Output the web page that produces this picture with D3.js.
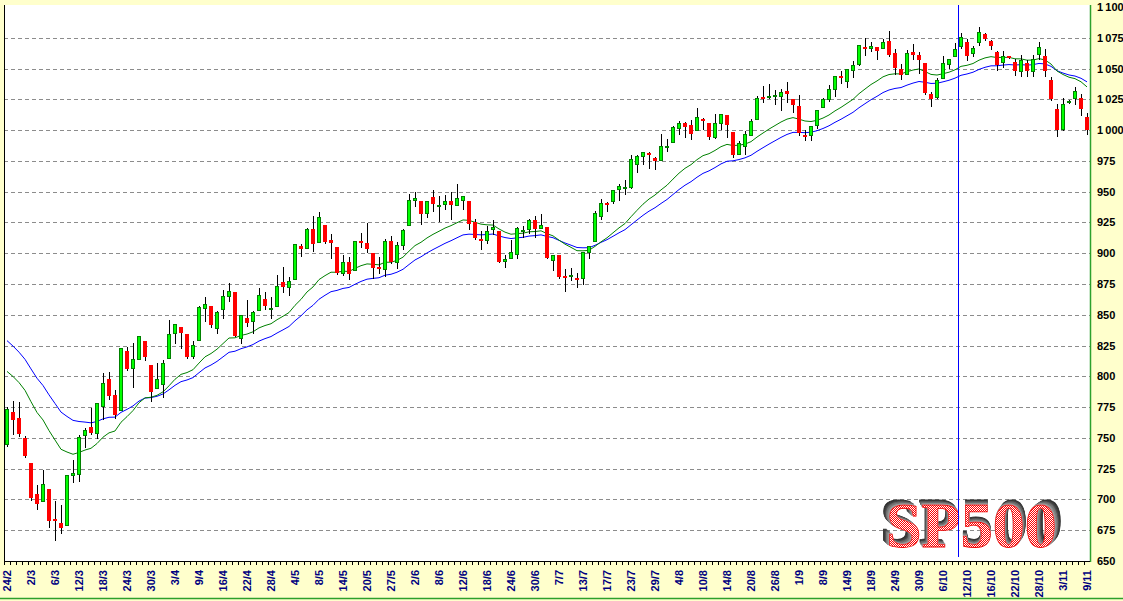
<!DOCTYPE html>
<html>
<head>
<meta charset="utf-8">
<script src="https://cdn.jsdelivr.net/npm/d3@7"></script>
<style>
  body { margin: 0; background: #ffffcc; }
  svg { display: block; }
</style>
</head>
<body>
<div id="container"></div>
<script>

// trading days shown on the chart (24/2 .. 9/11)
let dates = ["24/2","25/2","26/2","27/2",
  "2/3","3/3","4/3","5/3","6/3","9/3","10/3","11/3","12/3","13/3","16/3","17/3","18/3","19/3","20/3","23/3","24/3","25/3","26/3","27/3","30/3","31/3",
  "1/4","2/4","3/4","6/4","7/4","8/4","9/4","13/4","14/4","15/4","16/4","17/4","20/4","21/4","22/4","23/4","24/4","27/4","28/4","29/4","30/4",
  "1/5","4/5","5/5","6/5","7/5","8/5","11/5","12/5","13/5","14/5","15/5","18/5","19/5","20/5","21/5","22/5","26/5","27/5","28/5","29/5",
  "1/6","2/6","3/6","4/6","5/6","8/6","9/6","10/6","11/6","12/6","15/6","16/6","17/6","18/6","19/6","22/6","23/6","24/6","25/6","26/6","29/6","30/6",
  "1/7","2/7","6/7","7/7","8/7","9/7","10/7","13/7","14/7","15/7","16/7","17/7","20/7","21/7","22/7","23/7","24/7","27/7","28/7","29/7","30/7","31/7",
  "3/8","4/8","5/8","6/8","7/8","10/8","11/8","12/8","13/8","14/8","17/8","18/8","19/8","20/8","21/8","24/8","25/8","26/8","27/8","28/8","31/8",
  "1/9","2/9","3/9","4/9","8/9","9/9","10/9","11/9","14/9","15/9","16/9","17/9","18/9","21/9","22/9","23/9","24/9","25/9","28/9","29/9","30/9",
  "1/10","2/10","5/10","6/10","7/10","8/10","9/10","12/10","13/10","14/10","15/10","16/10","19/10","20/10","21/10","22/10","23/10","26/10","27/10","28/10","29/10","30/10",
  "2/11","3/11","4/11","5/11","6/11","9/11"];

let open = [744.69,770.64,765.76,749.93,
  729.57,704.44,698.60,708.27,684.04,680.76,679.28,719.59,720.89,751.97,758.84,753.88,776.01,797.92,784.58,772.31,820.60,806.81,814.06,828.68,809.07,790.88,
  793.59,814.53,835.13,839.75,834.12,816.76,829.29,855.33,856.88,839.44,854.54,865.18,868.27,831.25,847.26,844.62,853.91,862.82,854.48,856.85,876.59,
  872.74,879.21,906.10,903.95,919.58,909.03,922.99,910.52,905.40,884.24,892.76,886.07,909.67,908.62,900.42,888.68,887.00,909.95,892.96,907.02,
  923.26,942.87,942.51,932.49,945.67,938.12,940.35,942.73,939.04,943.44,942.45,925.60,911.89,910.86,919.96,918.13,893.46,896.31,899.45,918.84,919.86,927.15,
  920.82,921.24,894.27,898.60,881.90,881.28,880.03,879.57,900.77,910.15,930.17,940.56,942.07,951.97,953.40,954.07,972.16,978.63,981.48,977.66,976.01,986.80,
  990.22,1001.41,1005.41,1004.06,999.83,1008.89,1005.77,994.00,1005.86,1012.23,998.18,980.62,986.88,996.41,1009.06,1026.59,1026.63,1027.35,1027.81,1031.62,1025.21,
  1019.52,996.07,996.12,1003.84,1018.67,1025.36,1032.99,1043.92,1040.15,1049.03,1053.99,1067.87,1066.60,1067.14,1066.35,1072.69,1062.56,1049.48,1045.38,1063.69,1061.02,
  1054.91,1029.71,1026.87,1042.02,1053.65,1060.03,1068.7,1071.4,1062.5,1071.7,1077.7,1072.0,1063.3,1055.7,1060.0,1055.4,1047.9,1054.6,1048.4,1062.0,1060.6,1040.4,
  1017.4,1000.8,1022.5,1026.0,1026.0,1011.0];

let high = [775.49,780.12,779.42,751.27,
  729.57,711.67,724.12,708.27,699.09,695.27,719.60,731.92,752.63,758.29,774.53,778.12,803.04,803.24,788.91,823.37,823.65,826.78,832.98,828.68,809.07,810.48,
  813.62,845.61,842.50,839.75,834.12,828.42,856.91,864.31,856.88,852.93,870.35,875.63,868.27,850.09,861.78,852.87,871.80,868.83,864.48,882.06,888.70,
  880.48,907.85,907.70,920.28,930.17,933.36,922.99,915.57,905.40,898.36,896.97,910.00,916.39,924.60,900.42,896.65,911.76,913.84,909.45,920.02,
  947.77,949.38,942.51,942.47,951.69,946.33,946.92,949.77,956.23,946.30,942.45,928.00,918.44,921.93,927.09,918.13,898.69,910.85,921.42,922.00,927.99,930.01,
  931.92,921.24,898.72,898.60,886.80,887.86,883.57,901.05,905.84,933.95,943.96,941.89,951.62,956.53,959.83,979.42,979.79,982.49,982.35,977.76,996.68,993.18,
  1003.61,1007.12,1006.64,1008.00,1018.00,1010.12,1005.77,1012.78,1013.14,1012.60,998.18,991.20,999.61,1008.92,1027.59,1035.82,1037.75,1032.47,1033.33,1039.47,1025.21,
  1028.45,1000.34,1003.43,1016.48,1026.07,1036.34,1044.14,1048.18,1049.74,1056.04,1068.76,1074.77,1071.52,1067.28,1073.81,1080.15,1066.29,1053.47,1065.13,1069.62,1063.40,
  1054.91,1030.60,1042.58,1060.55,1058.02,1070.67,1078.5,1074.2,1068.7,1083.4,1078.5,1073.0,1064.0,1064.0,1060.5,1057.5,1061.2,1056.6,1061.2,1071.5,1065.5,1043.0,
  1021.0,1026.0,1024.5,1035.4,1029.5,1013.8];

let low = [743.33,752.89,751.75,734.52,
  699.70,692.30,698.60,677.93,666.79,672.88,679.28,713.85,714.76,742.46,753.37,749.93,765.64,781.82,766.20,772.31,805.48,791.37,814.06,813.43,779.81,790.88,
  783.32,814.53,826.70,822.79,814.53,814.84,829.29,845.35,840.25,835.58,847.04,860.87,832.39,826.83,840.57,835.45,853.91,854.65,847.12,856.85,868.51,
  866.10,879.21,897.34,903.95,901.85,909.03,908.68,896.46,882.80,882.52,878.94,886.07,905.22,901.37,879.61,883.75,881.46,891.87,887.60,903.56,
  923.26,938.46,923.85,929.32,934.13,926.44,936.15,927.97,939.04,935.66,919.65,911.60,903.78,907.94,915.80,893.04,888.86,896.31,896.27,913.03,916.18,912.86,
  920.82,896.42,886.36,879.93,869.32,878.45,872.81,875.32,896.50,910.15,927.45,934.65,940.99,943.22,947.75,953.27,965.95,972.29,969.35,968.65,976.01,982.85,
  990.22,996.68,994.31,992.49,999.83,1000.99,992.40,993.36,1000.82,994.60,978.51,980.62,980.62,996.39,1009.06,1022.48,1026.21,1021.57,1016.20,1023.13,1014.62,
  996.28,991.97,992.25,1001.65,1018.67,1023.97,1028.04,1038.40,1035.00,1043.42,1052.87,1061.20,1064.27,1057.46,1066.35,1060.39,1045.85,1041.17,1045.38,1057.83,1046.47,
  1029.45,1019.95,1025.92,1042.02,1050.10,1060.03,1066.8,1056.7,1060.0,1069.5,1073.6,1066.0,1049.0,1051.0,1058.5,1044.5,1043.6,1043.6,1044.0,1058.0,1043.6,1024.7,
  995.0,1000.0,1022.0,1021.0,1012.3,997.0];

let close = [773.14,764.90,752.83,735.09,
  700.82,696.33,712.87,682.55,683.38,676.53,719.60,721.36,750.74,756.55,753.89,778.12,794.35,784.04,768.54,822.92,806.12,813.88,832.86,815.94,787.53,797.87,
  811.08,834.38,842.50,835.48,815.55,825.16,856.56,858.73,841.50,852.06,865.30,869.60,832.39,850.08,843.55,851.92,866.23,857.51,855.16,873.64,872.81,
  877.52,907.24,903.80,919.53,907.39,929.23,909.24,908.35,883.92,893.07,882.88,909.71,908.13,903.47,888.33,887.00,910.33,893.06,906.83,919.14,
  942.87,944.74,931.76,942.46,940.09,939.14,942.43,939.15,944.89,946.21,923.72,911.97,910.71,918.37,921.23,893.04,895.10,900.94,920.26,918.90,927.23,919.32,
  923.33,896.42,898.72,881.03,879.56,882.68,879.13,901.05,905.84,932.68,940.74,940.38,951.13,954.58,954.07,976.29,979.26,982.18,979.62,975.15,986.75,987.48,
  1002.63,1005.65,1002.72,997.08,1010.48,1007.10,994.35,1005.81,1012.73,1004.09,979.73,989.67,996.46,1007.37,1026.13,1025.57,1028.00,1028.12,1030.98,1028.93,1020.62,
  998.04,994.75,1003.24,1016.40,1025.39,1033.37,1044.14,1042.73,1049.34,1052.63,1068.76,1065.49,1068.30,1064.66,1071.66,1060.87,1050.78,1044.38,1062.98,1060.61,1057.08,
  1029.85,1025.21,1040.46,1054.72,1057.58,1065.48,1075.8,1060.0,1066.3,1079.9,1074.4,1068.2,1053.0,1060.3,1059.0,1048.0,1057.3,1047.8,1057.9,1067.7,1048.0,1025.5,
  1000.0,1021.0,1024.0,1032.0,1017.4,1000.0];

// the two moving averages of the close (values at 24/2)
let maGreenStart = 804, maGreenPeriod = 18;
let maBlueStart = 829, maBluePeriod = 28;

// price axis ticks + which dates get a label
let yTicks = [650,675,700,725,750,775,800,825,850,875,900,925,950,975,1000,1025,1050,1075,1100];
let xLabels = ["24/2","2/3","6/3","12/3","18/3","24/3","30/3","3/4","9/4","16/4","22/4","28/4","4/5","8/5","14/5","20/5","27/5",
  "2/6","8/6","12/6","18/6","24/6","30/6","7/7","13/7","17/7","23/7","29/7","4/8","10/8","14/8","20/8","26/8","1/9","8/9","14/9",
  "18/9","24/9","30/9","6/10","12/10","16/10","22/10","28/10","3/11","9/11"];
let lastRealDate = "9/10"; // blue marker line sits in front of this day
let titleLetters = ["S","P","5","0","0"];

let w = 1123;
let h = 601;
let padLeft = 4, padRight = 1090, plotTop = 5, plotBottom = 561;

let viz = d3.select("#container")
  .append("svg")
    .attr("width", w)
    .attr("height", h)
;

viz.append("rect").attr("width", w).attr("height", h).attr("fill", "#ffffcc");
viz.append("rect")
  .attr("x", padLeft).attr("y", plotTop)
  .attr("width", padRight - padLeft).attr("height", plotBottom - plotTop)
  .attr("fill", "#ffffff");

// checkered red fill for the big title
let defs = viz.append("defs");
let pat = defs.append("pattern").attr("id", "chk")
  .attr("width", 2).attr("height", 2).attr("patternUnits", "userSpaceOnUse");
pat.append("rect").attr("width", 2).attr("height", 2).attr("fill", "#ffffff");
pat.append("rect").attr("width", 1).attr("height", 1).attr("fill", "#ff0000");
pat.append("rect").attr("x", 1).attr("y", 1).attr("width", 1).attr("height", 1).attr("fill", "#ff0000");

let xScale = d3.scaleBand()
    .domain(dates)
    .range([padLeft, padRight])
;
let yScale = d3.scaleLinear().domain([650, 1100]).range([plotBottom, 7]);

// dashed grid
viz.append("g").selectAll("line")
  .data(yTicks.filter(v => v > 650 && v < 1100))
  .enter().append("line")
    .attr("x1", padLeft).attr("x2", padRight)
    .attr("y1", d => Math.round(yScale(d)) + 0.5)
    .attr("y2", d => Math.round(yScale(d)) + 0.5)
    .attr("stroke", "#8c8c8c")
    .attr("stroke-dasharray", "4,3")
;

// SP500 title: one text per letter, each with its own grey extrusion
// pointing towards a vanishing point above the middle of the word
let logoFont = "'Liberation Serif','Times New Roman',serif";
let logo = viz.append("g").attr("transform", "translate(886,547)")
  .style("font-family", logoFont)
  .style("font-weight", "bold")
  .style("font-size", "64px");

let measure = logo.append("text").text(titleLetters.join("")).attr("visibility", "hidden");
let letterX = titleLetters.map((c, i) => measure.node().getStartPositionOfChar(i).x);
let letterW = titleLetters.map((c, i) => measure.node().getExtentOfChar(i).width);
measure.remove();
let wordMid = letterX[0] + (letterX[4] + letterW[4] - letterX[0]) / 2;

let shades = d3.scaleLinear().domain([1, 7]).range(["#9a9a9a", "#2e2e2e"]);
titleLetters.forEach(function(c, i){
  let mid = letterX[i] + letterW[i] / 2;
  let ux = (mid - wordMid) / 80;   // sideways step per layer
  let uy = -0.7;                   // upward step per layer
  let f = defs.append("filter").attr("id", "ext" + i)
    .attr("x", "-40%").attr("y", "-40%").attr("width", "180%").attr("height", "180%");
  let merge = [];
  for (let k = 7; k >= 1; k--){
    f.append("feOffset").attr("in", "SourceAlpha").attr("dx", ux * k).attr("dy", uy * k).attr("result", "o" + k);
    f.append("feFlood").attr("flood-color", shades(k)).attr("result", "c" + k);
    f.append("feComposite").attr("in", "c" + k).attr("in2", "o" + k).attr("operator", "in").attr("result", "s" + k);
    merge.push("s" + k);
  }
  merge.push("SourceGraphic");
  let m = f.append("feMerge");
  merge.forEach(n => m.append("feMergeNode").attr("in", n));

  logo.append("text").text(c)
    .attr("x", letterX[i])
    .attr("fill", "url(#chk)")
    .attr("stroke", "#ee0000")
    .attr("stroke-width", 0.8)
    .attr("filter", "url(#ext" + i + ")");
});

// moving averages
function ema(values, period, start){
  let k = 2 / (period + 1);
  let out = [start];
  for (let i = 1; i < values.length; i++){
    out.push(out[i-1] + k * (values[i] - out[i-1]));
  }
  return out;
}
let maGreen = ema(close, maGreenPeriod, maGreenStart);
let maBlue = ema(close, maBluePeriod, maBlueStart);

let maLine = d3.line()
  .x(function(d, i){ return xScale(dates[i]) + xScale.bandwidth() / 2; })
  .y(function(d){ return yScale(d); });

viz.append("path").datum(maBlue)
  .attr("d", maLine).attr("fill", "none").attr("stroke", "#0000ff").attr("stroke-width", 1);
viz.append("path").datum(maGreen)
  .attr("d", maLine).attr("fill", "none").attr("stroke", "#008000").attr("stroke-width", 1);

// candles
let candles = dates.map(function(d, i){
  return {date: d, o: open[i], h: high[i], l: low[i], c: close[i]};
});

let graphGroup = viz.append("g").classed("graphGroup", true);
let candleGroups = graphGroup.selectAll(".candle").data(candles)
  .enter().append("g")
    .classed("candle", true)
    .attr("transform", function(d){ return "translate(" + xScale(d.date) + ",0)"; })
;
candleGroups.append("line")
  .attr("x1", 3.5).attr("x2", 3.5)
  .attr("y1", d => Math.round(yScale(d.h)))
  .attr("y2", d => Math.round(yScale(d.l)) + 1)
  .attr("stroke", "#000000");

candleGroups.filter(d => d.c >= d.o).append("rect")
  .attr("x", 1.5)
  .attr("width", 3)
  .attr("y", d => Math.round(yScale(d.c)) + 0.5)
  .attr("height", d => Math.max(1, Math.round(yScale(d.o)) - Math.round(yScale(d.c))))
  .attr("fill", "#00ff00")
  .attr("stroke", "#008000");

candleGroups.filter(d => d.c < d.o).append("rect")
  .attr("x", 1)
  .attr("width", 4)
  .attr("y", d => Math.round(yScale(d.o)))
  .attr("height", d => Math.max(2, Math.round(yScale(d.c)) - Math.round(yScale(d.o))))
  .attr("fill", "#ff0000");

// blue marker line
viz.append("line")
  .attr("x1", xScale(lastRealDate) + 0.5).attr("x2", xScale(lastRealDate) + 0.5)
  .attr("y1", plotTop).attr("y2", 557)
  .attr("stroke", "#0000ff");

// frame
viz.append("line").attr("x1", padLeft + 0.5).attr("x2", padLeft + 0.5).attr("y1", plotTop).attr("y2", plotBottom)
  .attr("stroke", "#000000");
viz.append("line").attr("x1", padRight + 0.5).attr("x2", padRight + 0.5).attr("y1", plotTop).attr("y2", plotBottom + 1)
  .attr("stroke", "#2ca02c").attr("stroke-width", 1.5);
viz.append("line").attr("x1", padLeft).attr("x2", padRight).attr("y1", plotBottom + 0.5).attr("y2", plotBottom + 0.5)
  .attr("stroke", "#000000");
viz.append("line").attr("x1", 0).attr("x2", w).attr("y1", 598.5).attr("y2", 598.5)
  .attr("stroke", "#2ca02c").attr("stroke-width", 1.5);

// small ticks under every day
viz.append("g").selectAll("line").data(dates).enter().append("line")
  .attr("x1", d => xScale(d) + 0.5).attr("x2", d => xScale(d) + 0.5)
  .attr("y1", plotBottom).attr("y2", plotBottom + 4)
  .attr("stroke", "#000000");

// date labels
let xAxis = d3.axisBottom(xScale).tickValues(xLabels).tickSize(0);
let xAxisGroup = viz.append("g").classed("xAxis", true)
  .attr("transform", "translate(0," + plotBottom + ")")
  .call(xAxis);
xAxisGroup.select(".domain").remove();
xAxisGroup.selectAll("text")
  .attr("transform", "rotate(-90)")
  .attr("text-anchor", "end")
  .attr("x", -9)
  .attr("y", 0)
  .attr("dy", "0.35em")
  .attr("fill", "#000080")
  .style("font-family", "'Liberation Sans',Arial,sans-serif")
  .style("font-weight", "bold")
  .style("font-size", "11px");

// price labels on the right
let yAxis = d3.axisRight(yScale).tickValues(yTicks).tickSize(0).tickPadding(0)
  .tickFormat(function(v){ return v >= 1000 ? "1\u2009" + String(v).slice(1) : String(v); });
let yAxisGroup = viz.append("g").classed("yAxis", true)
  .attr("transform", "translate(1097,0)")
  .call(yAxis);
yAxisGroup.select(".domain").remove();
yAxisGroup.selectAll("text")
  .attr("fill", "#000000")
  .style("font-family", "'Liberation Sans',Arial,sans-serif")
  .style("font-weight", "bold")
  .style("font-size", "11px");

</script>
</body>
</html>
